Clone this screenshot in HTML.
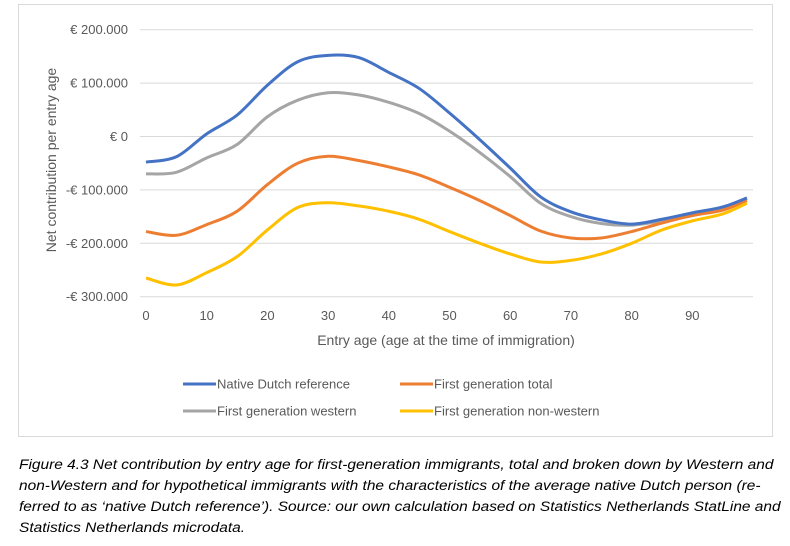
<!DOCTYPE html>
<html><head><meta charset="utf-8"><style>
body{margin:0;background:#fff;width:790px;height:546px;overflow:hidden;font-family:"Liberation Sans",sans-serif}
svg text{font-family:"Liberation Sans",sans-serif}
.cap{position:absolute;left:19px;top:455px;width:700px;font-style:italic;font-size:14.2px;line-height:21px;color:#000;white-space:nowrap;transform:scaleX(1.09);transform-origin:0 0}
</style></head><body>
<svg width="790" height="546" style="position:absolute;left:0;top:0">
<rect x="18.5" y="4.5" width="754" height="432" fill="none" stroke="#d9d9d9"/>
<g id="grid"></g><g id="ylab"></g><g id="xlab"></g><g id="lines"></g>
<text x="56" y="160" transform="rotate(-90 56 160)" text-anchor="middle" font-size="14" fill="#595959">Net contribution per entry age</text>
<text x="446" y="345" text-anchor="middle" font-size="14" fill="#595959">Entry age (age at the time of immigration)</text>
<g id="legend"></g>
</svg>
<div class="cap">Figure 4.3 Net contribution by entry age for first-generation immigrants, total and broken down by Western and<br>non-Western and for hypothetical immigrants with the characteristics of the average native Dutch person (re-<br>ferred to as ‘native Dutch reference’). Source: our own calculation based on Statistics Netherlands StatLine and<br>Statistics Netherlands microdata.</div>
<script>
const ages=[0,5,10,15,20,25,30,35,40,45,50,55,60,65,70,75,80,85,90,95,99];
const native=[-48,-38,5,40,96,140,152,148,120,90,44,-6,-59,-113,-141,-156,-164,-155,-143,-132,-115];
const western=[-70,-67,-40,-15,37,68,82,78,64,43,10,-30,-75,-125,-150,-163,-166,-158,-148,-135,-116];
const total=[-178,-185,-165,-140,-90,-50,-37,-45,-57,-72,-95,-120,-148,-177,-190,-190,-178,-162,-148,-138,-120];
const nonWestern=[-265,-278,-255,-225,-175,-133,-124,-130,-140,-155,-178,-200,-220,-235,-232,-220,-200,-175,-158,-145,-125];
const yTicks=[200,100,0,-100,-200,-300];
const yTickLabels=["€ 200.000","€ 100.000","€ 0","-€ 100.000","-€ 200.000","-€ 300.000"];
const xTicks=[0,10,20,30,40,50,60,70,80,90];
const NS="http://www.w3.org/2000/svg";
const X=a=>146+a*6.07, Y=v=>136.5-v*0.534;
function mk(t,at,p){const e=document.createElementNS(NS,t);for(const k in at)e.setAttribute(k,at[k]);p.appendChild(e);return e;}
const grid=document.getElementById('grid'),yl=document.getElementById('ylab'),xl=document.getElementById('xlab');
yTicks.forEach((v,i)=>{
 const g=mk('line',{x1:140,x2:753,y1:Y(v),y2:Y(v),stroke:'#d9d9d9','stroke-width':1},grid);
 
 
 const t=mk('text',{x:128,y:Y(v)+4.5,'text-anchor':'end','font-size':13,fill:'#595959'},yl);t.textContent=yTickLabels[i];
 
 
});
xTicks.forEach(a=>{
 const t=mk('text',{x:X(a),y:320,'text-anchor':'middle','font-size':13,fill:'#595959'},xl);t.textContent=a;
 
 
});
function path(vals){
 const p=ages.map((a,i)=>[X(a),Y(vals[i])]);let d='M'+p[0][0]+','+p[0][1];
 for(let i=0;i<p.length-1;i++){const p0=p[i-1]||p[i],p1=p[i],p2=p[i+1],p3=p[i+2]||p2;
  d+=` C${p1[0]+(p2[0]-p0[0])/6},${p1[1]+(p2[1]-p0[1])/6} ${p2[0]-(p3[0]-p1[0])/6},${p2[1]-(p3[1]-p1[1])/6} ${p2[0]},${p2[1]}`;}
 return d;}
const series=[[western,'#a5a5a5','line-first-generation-western'],[total,'#ed7d31','line-first-generation-total'],[nonWestern,'#ffc000','line-first-generation-non-western'],[native,'#4472c4','line-native-dutch-reference']];
const L=document.getElementById('lines');
series.forEach(s=>{const e=mk('path',{d:path(s[0]),fill:'none',stroke:s[1],'stroke-width':3,'stroke-linejoin':'round'},L);
 
 });
const leg=[['Native Dutch reference','#4472c4',183,384],['First generation total','#ed7d31',400,384],['First generation western','#a5a5a5',183,411],['First generation non-western','#ffc000',400,411]];
const LG=document.getElementById('legend');
leg.forEach(l=>{const g=mk('g',{},LG);
 
 
 mk('line',{x1:l[2],x2:l[2]+33,y1:l[3],y2:l[3],stroke:l[1],'stroke-width':3},g);
 const t=mk('text',{x:l[2]+34,y:l[3]+4.5,'font-size':13,fill:'#595959'},g);t.textContent=l[0];});
</script>
</body></html>
